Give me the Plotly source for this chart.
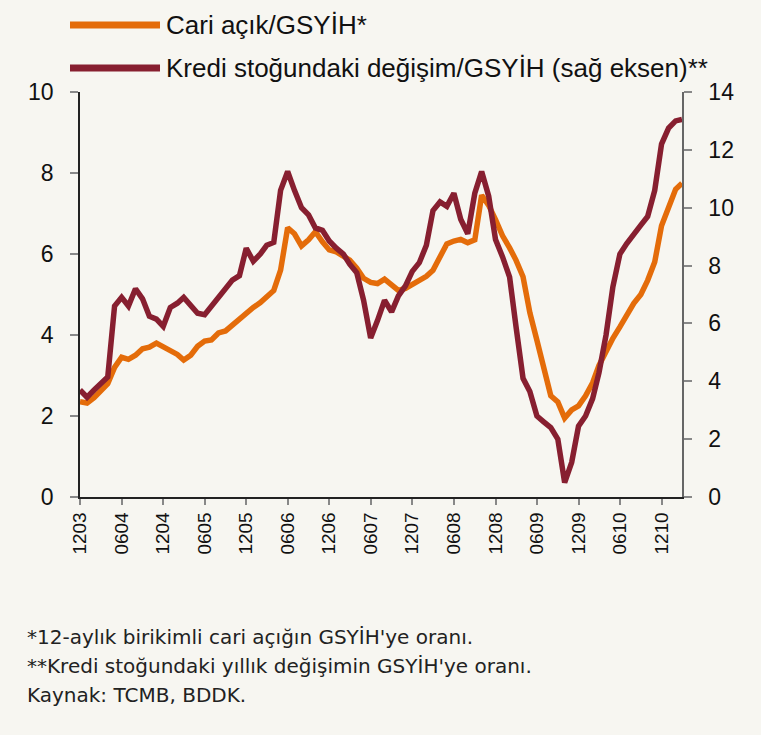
import pandas as pd
import plotly.graph_objects as go

# Monthly data, Dec 2003 - Mar 2011
start_month = "2003-12-01"
n_months = 88

cari_acik = [
    2.35, 2.32, 2.45, 2.63, 2.80, 3.20, 3.45, 3.40, 3.50, 3.66,
    3.70, 3.80, 3.72, 3.60, 3.52, 3.38, 3.50, 3.72, 3.85, 3.88,
    4.05, 4.10, 4.25, 4.40, 4.55, 4.68, 4.80, 4.93, 5.10, 5.60,
    6.65, 6.50, 6.20, 6.35, 6.55, 6.30, 6.10, 6.05, 5.95, 5.85,
    5.65, 5.40, 5.30, 5.27, 5.38, 5.25, 5.10, 5.15, 5.25, 5.35,
    5.45, 5.60, 5.95, 6.25, 6.32, 6.36, 6.28, 6.35, 7.45, 7.20,
    6.85, 6.45, 6.15, 5.85, 5.44, 4.55, 3.87, 3.25, 2.50, 2.35,
    1.95, 2.15, 2.25, 2.50, 2.82, 3.25, 3.60, 3.92, 4.20, 4.50,
    4.78, 5.00, 5.35, 5.80, 6.70, 7.15, 7.60, 7.75,
]

kredi_degisim = [
    3.70, 3.45, 3.70, 3.95, 4.15, 6.60, 6.90, 6.60, 7.20, 6.85,
    6.25, 6.15, 5.90, 6.55, 6.70, 6.90, 6.60, 6.35, 6.30, 6.60,
    6.95, 7.20, 7.50, 7.65, 8.60, 8.15, 8.40, 8.70, 8.80, 10.60,
    11.25, 10.60, 10.00, 9.75, 9.30, 9.22, 8.85, 8.60, 8.40, 8.05,
    7.75, 6.80, 5.50, 6.10, 6.80, 6.40, 6.95, 7.30, 7.80, 8.10,
    8.70, 9.90, 10.20, 10.05, 10.50, 9.60, 9.10, 10.50, 11.25, 10.40,
    8.90, 8.30, 7.60, 5.90, 4.10, 3.65, 2.80, 2.60, 2.40, 2.00,
    0.50, 1.20, 2.45, 2.80, 3.40, 4.30, 5.60, 7.26, 8.40, 8.76,
    9.05, 9.40, 9.70, 10.60, 12.20, 12.75, 13.00, 13.05,
]

series_names = ["Cari açık/GSYİH*", "Kredi stoğundaki değişim/GSYİH (sağ eksen)**"]
footnotes = [
    "*12-aylık birikimli cari açığın GSYİH'ye oranı.",
    "**Kredi stoğundaki yıllık değişimin GSYİH'ye oranı.",
    "Kaynak: TCMB, BDDK.",
]

months = pd.date_range(start_month, periods=n_months, freq="MS")

ORANGE = "#E46C0A"
RED = "#871F30"
BG = "#F7F6F1"

fig = go.Figure()
fig.add_trace(go.Scatter(x=months, y=cari_acik, mode="lines", name=series_names[0],
                         line=dict(color=ORANGE, width=5.5), yaxis="y", showlegend=False))
fig.add_trace(go.Scatter(x=months, y=kredi_degisim, mode="lines", name=series_names[1],
                         line=dict(color=RED, width=5.5), yaxis="y2", showlegend=False))

L, R, T, B = 80, 79, 92, 238
W, H = 761, 735
pw, ph = W - L - R, H - T - B


def px(xp):
    return (xp - L) / pw


def py(yp):
    return (H - B - yp) / ph


shapes = []
annotations = []
for i, (name, col, ypix) in enumerate([(series_names[0], ORANGE, 25), (series_names[1], RED, 68)]):
    shapes.append(dict(type="line", xref="paper", yref="paper", x0=px(70), x1=px(160),
                       y0=py(ypix), y1=py(ypix), line=dict(color=col, width=7)))
    annotations.append(dict(xref="paper", yref="paper", x=px(164), y=py(ypix), text=name,
                            showarrow=False, xanchor="left", yanchor="middle",
                            font=dict(family="Liberation Sans, Arial", size=26, color="#111")))

for i, (t, ypix) in enumerate(zip(footnotes, [637, 666, 695])):
    annotations.append(dict(xref="paper", yref="paper", x=px(25), y=py(ypix), text=t,
                            showarrow=False, xanchor="left", yanchor="middle",
                            font=dict(family="DejaVu Sans", size=20, color="#222")))

axis_font = dict(family="Liberation Sans, Arial", size=23, color="#111")

fig.update_layout(
    width=W, height=H,
    margin=dict(l=L, r=R, t=T, b=B),
    paper_bgcolor=BG, plot_bgcolor=BG,
    shapes=shapes, annotations=annotations,
    xaxis=dict(
        range=[months[0], months[-1]],
        tick0=start_month, dtick="M6", tickformat="%m%y",
        tickangle=-90, ticks="outside", ticklen=6, tickcolor="#888", tickwidth=1.5,
        showline=True, linecolor="#222", linewidth=1.5,
        showgrid=False, zeroline=False, ticklabelstandoff=0,
        tickfont=dict(family="Liberation Sans, Arial", size=19, color="#111"),
    ),
    yaxis=dict(
        range=[0, 10], dtick=2, ticks="outside", ticklen=8, tickcolor="#888", tickwidth=1.5,
        showline=True, linecolor="#222", linewidth=1.5, showgrid=False, zeroline=False,
        tickfont=axis_font, ticklabelstandoff=12,
    ),
    yaxis2=dict(
        range=[0, 14], dtick=2, overlaying="y", side="right",
        ticks="outside", ticklen=8, tickcolor="#888", tickwidth=1.5,
        showline=True, linecolor="#666", linewidth=1.5, showgrid=False, zeroline=False,
        tickfont=axis_font, ticklabelstandoff=12,
    ),
)

fig.write_html("out.html", config={"displayModeBar": False})

# remove default page margin so the figure sits at the window origin
with open("out.html", "r", encoding="utf-8") as f:
    html = f.read()
html = html.replace("<head>", "<head><style>html,body{margin:0;padding:0;}</style>", 1)
with open("out.html", "w", encoding="utf-8") as f:
    f.write(html)
